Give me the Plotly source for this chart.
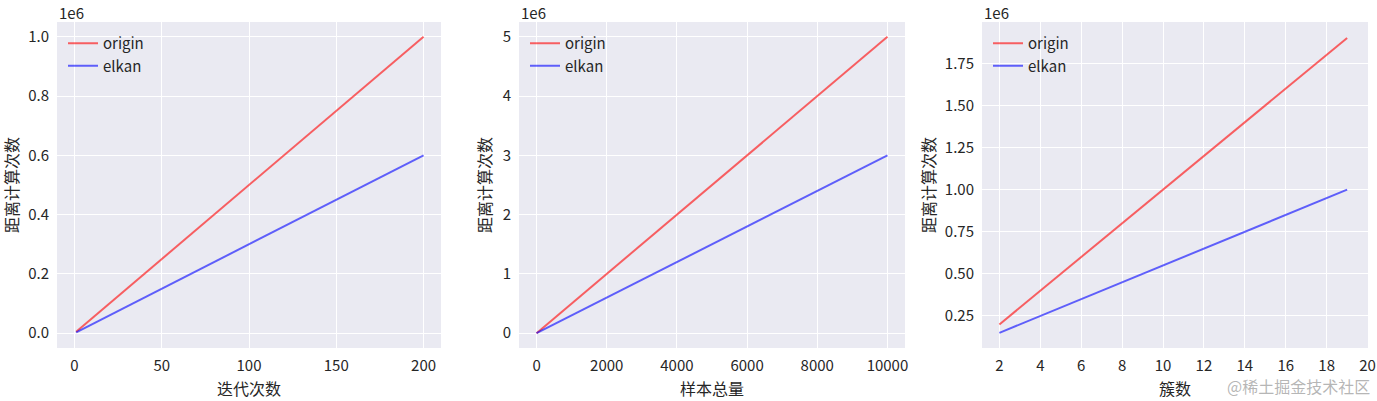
import plotly.graph_objects as go

# ---- data ----
iter_x = [1, 50, 100, 150, 200]
iter_origin = [5000, 250000, 500000, 750000, 1000000]
iter_elkan = [3000, 150000, 300000, 450000, 600000]

n_x = [0, 2000, 4000, 6000, 8000, 10000]
n_origin = [0, 1000000, 2000000, 3000000, 4000000, 5000000]
n_elkan = [0, 600000, 1200000, 1800000, 2400000, 3000000]

k_x = [2, 4, 6, 8, 10, 12, 14, 16, 18, 19]
k_origin = [200000, 400000, 600000, 800000, 1000000, 1200000, 1400000, 1600000, 1800000, 1900000]
k_elkan = [150000, 250000, 350000, 450000, 550000, 650000, 750000, 850000, 950000, 1000000]

x_titles = ["迭代次数", "样本总量", "簇数"]
y_title = "距离计算次数"
series_names = ["origin", "elkan"]

iter_ticks = [0, 50, 100, 150, 200]
n_ticks = [0, 2000, 4000, 6000, 8000, 10000]
k_ticks = [2, 4, 6, 8, 10, 12, 14, 16, 18, 20]
iter_yticks = [0, 0.2e6, 0.4e6, 0.6e6, 0.8e6, 1.0e6]
iter_ylabels = ["0.0", "0.2", "0.4", "0.6", "0.8", "1.0"]
n_yticks = [0, 1e6, 2e6, 3e6, 4e6, 5e6]
n_ylabels = ["0", "1", "2", "3", "4", "5"]
k_yticks = [0.25e6, 0.5e6, 0.75e6, 1.0e6, 1.25e6, 1.5e6, 1.75e6]
k_ylabels = ["0.25", "0.50", "0.75", "1.00", "1.25", "1.50", "1.75"]

RED = "rgba(255,0,0,0.6)"
BLUE = "rgba(0,0,255,0.6)"
FONT = "Noto Sans CJK SC, Microsoft YaHei, sans-serif"
TXT = "#262626"

W, H = 1377, 401
x_doms = [(57, 441), (519, 905), (982, 1368)]
y_dom = (22, 348)

fig = go.Figure()

panels = [
    (iter_x, iter_origin, iter_elkan, [-10, 210], [-0.05e6, 1.05e6], iter_ticks, iter_yticks, iter_ylabels),
    (n_x, n_origin, n_elkan, [-500, 10500], [-0.25e6, 5.25e6], n_ticks, n_yticks, n_ylabels),
    (k_x, k_origin, k_elkan, [1.15, 20.02], [0.06e6, 1.995e6], k_ticks, k_yticks, k_ylabels),
]

legend_names = ["legend", "legend2", "legend3"]
layout_upd = {}
annotations = []
for i, (xs, yo, ye, xr, yr, xt, yt, ytl) in enumerate(panels):
    sfx = "" if i == 0 else str(i + 1)
    xa, ya = "x" + sfx, "y" + sfx
    leg = legend_names[i]
    fig.add_trace(go.Scatter(x=xs, y=yo, mode="lines", name=series_names[0],
                             line=dict(color=RED, width=2), xaxis=xa, yaxis=ya, legend=leg))
    fig.add_trace(go.Scatter(x=xs, y=ye, mode="lines", name=series_names[1],
                             line=dict(color=BLUE, width=2), xaxis=xa, yaxis=ya, legend=leg))
    x0, x1 = x_doms[i]
    dom_x = [x0 / W, x1 / W]
    dom_y = [(H - y_dom[1]) / H, (H - y_dom[0]) / H]
    layout_upd["xaxis" + sfx] = dict(
        domain=dom_x, range=xr, tickvals=xt, ticktext=[str(v) for v in xt],
        showgrid=True, gridcolor="white", gridwidth=1,
        zeroline=False, showline=False, ticks="outside", ticklen=4, tickcolor="rgba(0,0,0,0)",
        tickfont=dict(family=FONT, size=15, color=TXT), anchor=ya)
    layout_upd["yaxis" + sfx] = dict(
        domain=dom_y, range=yr, tickvals=yt, ticktext=ytl, showgrid=True, gridcolor="white", gridwidth=1,
        zeroline=False, showline=False, ticks="outside", ticklen=4, tickcolor="rgba(0,0,0,0)",
        tickfont=dict(family=FONT, size=15, color=TXT), anchor=xa)
    layout_upd[leg] = dict(x=(x0 + 6) / W, y=(H - 27) / H, xanchor="left", yanchor="top",
                           bgcolor="rgba(0,0,0,0)", font=dict(family=FONT, size=15, color=TXT),
                           tracegroupgap=0, itemwidth=30)
    annotations.append(dict(text="1e6", x=x0 / W, y=(H - 12) / H, xref="paper", yref="paper",
                            xanchor="left", yanchor="middle", showarrow=False,
                            font=dict(family=FONT, size=15, color=TXT)))
    annotations.append(dict(text=x_titles[i], x=(x0 + x1) / 2 / W, y=(H - 388) / H, xref="paper", yref="paper",
                            xanchor="center", yanchor="middle", showarrow=False,
                            font=dict(family=FONT, size=16, color=TXT)))
    yt_x = [11, 484, 928][i]
    annotations.append(dict(text=y_title, x=yt_x / W, y=(H - 185) / H, xref="paper", yref="paper",
                            xanchor="center", yanchor="middle", showarrow=False, textangle=-90,
                            font=dict(family=FONT, size=16, color=TXT)))

annotations.append(dict(text="@稀土掘金技术社区", x=1372 / W, y=(H - 386) / H, xref="paper", yref="paper",
                        xanchor="right", yanchor="middle", showarrow=False,
                        font=dict(family=FONT, size=16, color="rgba(150,150,150,0.7)")))

fig.update_layout(
    width=W, height=H, margin=dict(l=0, r=0, t=0, b=0, autoexpand=False),
    plot_bgcolor="#EAEAF2", paper_bgcolor="white",
    annotations=annotations, showlegend=True, **layout_upd)

fig.write_html("out.html", config={"displayModeBar": False},
               post_script="document.body.style.margin='0px';")
